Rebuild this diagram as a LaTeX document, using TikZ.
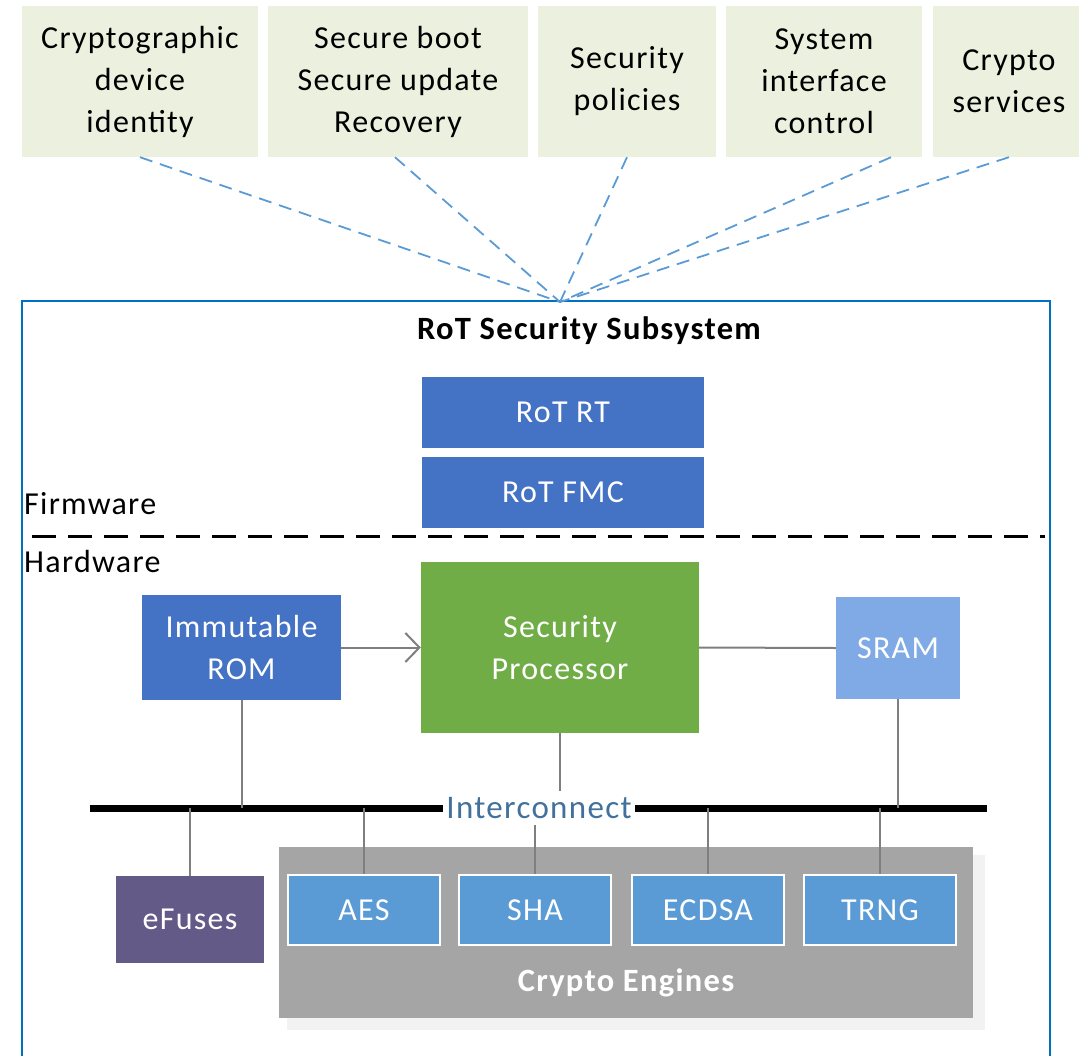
\documentclass[tikz,border=0pt]{standalone}
\usepackage{fontspec}
\setmainfont{Carlito}[LetterSpace=4]
\usetikzlibrary{arrows.meta}

\definecolor{featgreen}{HTML}{EBF1DE}
\definecolor{linkblue}{HTML}{5B9BD5}
\definecolor{framblue}{HTML}{0070C0}
\definecolor{fwblue}{HTML}{4472C4}
\definecolor{cpugreen}{HTML}{70AD47}
\definecolor{ramblue}{HTML}{7FAAE6}
\definecolor{fusepurple}{HTML}{645A88}
\definecolor{enggray}{HTML}{A5A5A5}
\definecolor{shadowgray}{HTML}{F2F2F2}
\definecolor{engblue}{HTML}{5B9BD5}
\definecolor{wiregray}{HTML}{7F7F7F}
\definecolor{icblue}{HTML}{41719C}

\tikzset{
  base/.style={inner sep=0pt, align=center, font=\fontsize{32}{42}\selectfont},
  feature/.style={base, fill=featgreen, text=black, minimum height=151pt},
  block/.style={base, text=white},
  engine/.style={block, fill=engblue, draw=white, line width=2pt,
                 minimum width=152pt, minimum height=70pt},
  link/.style={linkblue, line width=1.8pt, dash pattern=on 13pt off 8pt},
  wire/.style={wiregray, line width=2pt},
}

\begin{document}
\begin{tikzpicture}[x=1pt, y=-1pt]
\useasboundingbox (0,0) rectangle (1079,1055);

% services provided by the subsystem
\node[feature, minimum width=236pt] (f1) at (140,81.5) {Cryptographic\\device\\identity};
\node[feature, minimum width=260pt] (f2) at (398,81.5) {Secure boot\\Secure update\\Recovery};
\node[feature, minimum width=178pt] (f3) at (627,81.5) {Security\\policies};
\node[feature, minimum width=196pt] (f4) at (824,81.5) {System\\interface\\control};
\node[feature, minimum width=152pt] (f5) at (1009,81.5) {Crypto\\services};

% subsystem frame
\draw[framblue, line width=2pt] (22,301) rectangle (1050,1075);
\coordinate (hub) at (560,302);

\draw[link] (f1.south) -- (hub);
\draw[link] ([xshift=-3pt]f2.south) -- (hub);
\draw[link] (f3.south) -- (hub);
\draw[link] ([xshift=67pt]f4.south) -- (hub);
\draw[link] (f5.south) -- (hub);

\node[base, font=\fontsize{32.5}{36}\bfseries] (title) at (589,331) {RoT Security Subsystem};

% firmware layer
\node[block, fill=fwblue, minimum width=282pt, minimum height=71pt] (rt) at (563,412.5) {RoT RT};
\node[block, fill=fwblue, minimum width=282pt, minimum height=71pt] (fmc) at (563,492.5) {RoT FMC};

\node[base, anchor=west, font=\fontsize{32}{36}\selectfont] (fwlabel) at (24,504) {Firmware};
\coordinate (divL) at (32,536);
\coordinate (divR) at (1045,536);
\draw[black, line width=3pt, dash pattern=on 24pt off 12pt] (divL) -- (divR);
\node[base, anchor=west, font=\fontsize{32}{36}\selectfont] (hwlabel) at (24,561) {Hardware};

% hardware blocks
\node[block, fill=fwblue, minimum width=199pt, minimum height=105pt] (rom) at (241.5,647.5) {Immutable\\ROM};
\node[block, fill=cpugreen, minimum width=278pt, minimum height=171pt] (cpu) at (560,647.5) {Security\\Processor};
\node[block, fill=ramblue, minimum width=124pt, minimum height=102pt] (sram) at (898,648) {SRAM};

\draw[wire, -{Straight Barb[length=14pt, width=29pt, line width=2pt]}] (rom.east) -- (cpu.west);
\draw[wire] (cpu.east) -- (sram.west);

% interconnect bus
\coordinate (busL) at (90,808);
\coordinate (busR) at (987,808);
\draw[black, line width=7pt] (busL) -- (busR);
\node[base, fill=white, inner xsep=3pt, inner ysep=6pt, text=icblue, font=\fontsize{33}{36}\selectfont] (ic) at (539,808) {Interconnect};

% crypto engines group
\fill[shadowgray] (287,855) rectangle (985,1030);
\node[base, fill=enggray, minimum width=694pt, minimum height=171pt] (ce) at (626,932.5) {};
\node[base, text=white, font=\fontsize{32.5}{36}\bfseries] (celabel) at (626,983) {Crypto Engines};

\node[engine] (aes) at (364,910) {AES};
\node[engine] (sha) at (535,910) {SHA};
\node[engine] (ecdsa) at (708,910) {ECDSA};
\node[engine] (trng) at (880,910) {TRNG};

\node[block, fill=fusepurple, minimum width=148pt, minimum height=87pt] (fuses) at (190,919.5) {eFuses};

% bus taps
\draw[wire] (rom.south) -- (rom.south |- busL);
\draw[wire] (cpu.south) -- (cpu.south |- ic.north);
\draw[wire] (sram.south) -- (sram.south |- busL);
\draw[wire] (fuses.north) -- (fuses.north |- busL);
\draw[wire] (aes.north) -- (aes.north |- busL);
\draw[wire] (sha.north) -- (sha.north |- ic.south);
\draw[wire] (ecdsa.north) -- (ecdsa.north |- busL);
\draw[wire] (trng.north) -- (trng.north |- busL);
\end{tikzpicture}
\end{document}
